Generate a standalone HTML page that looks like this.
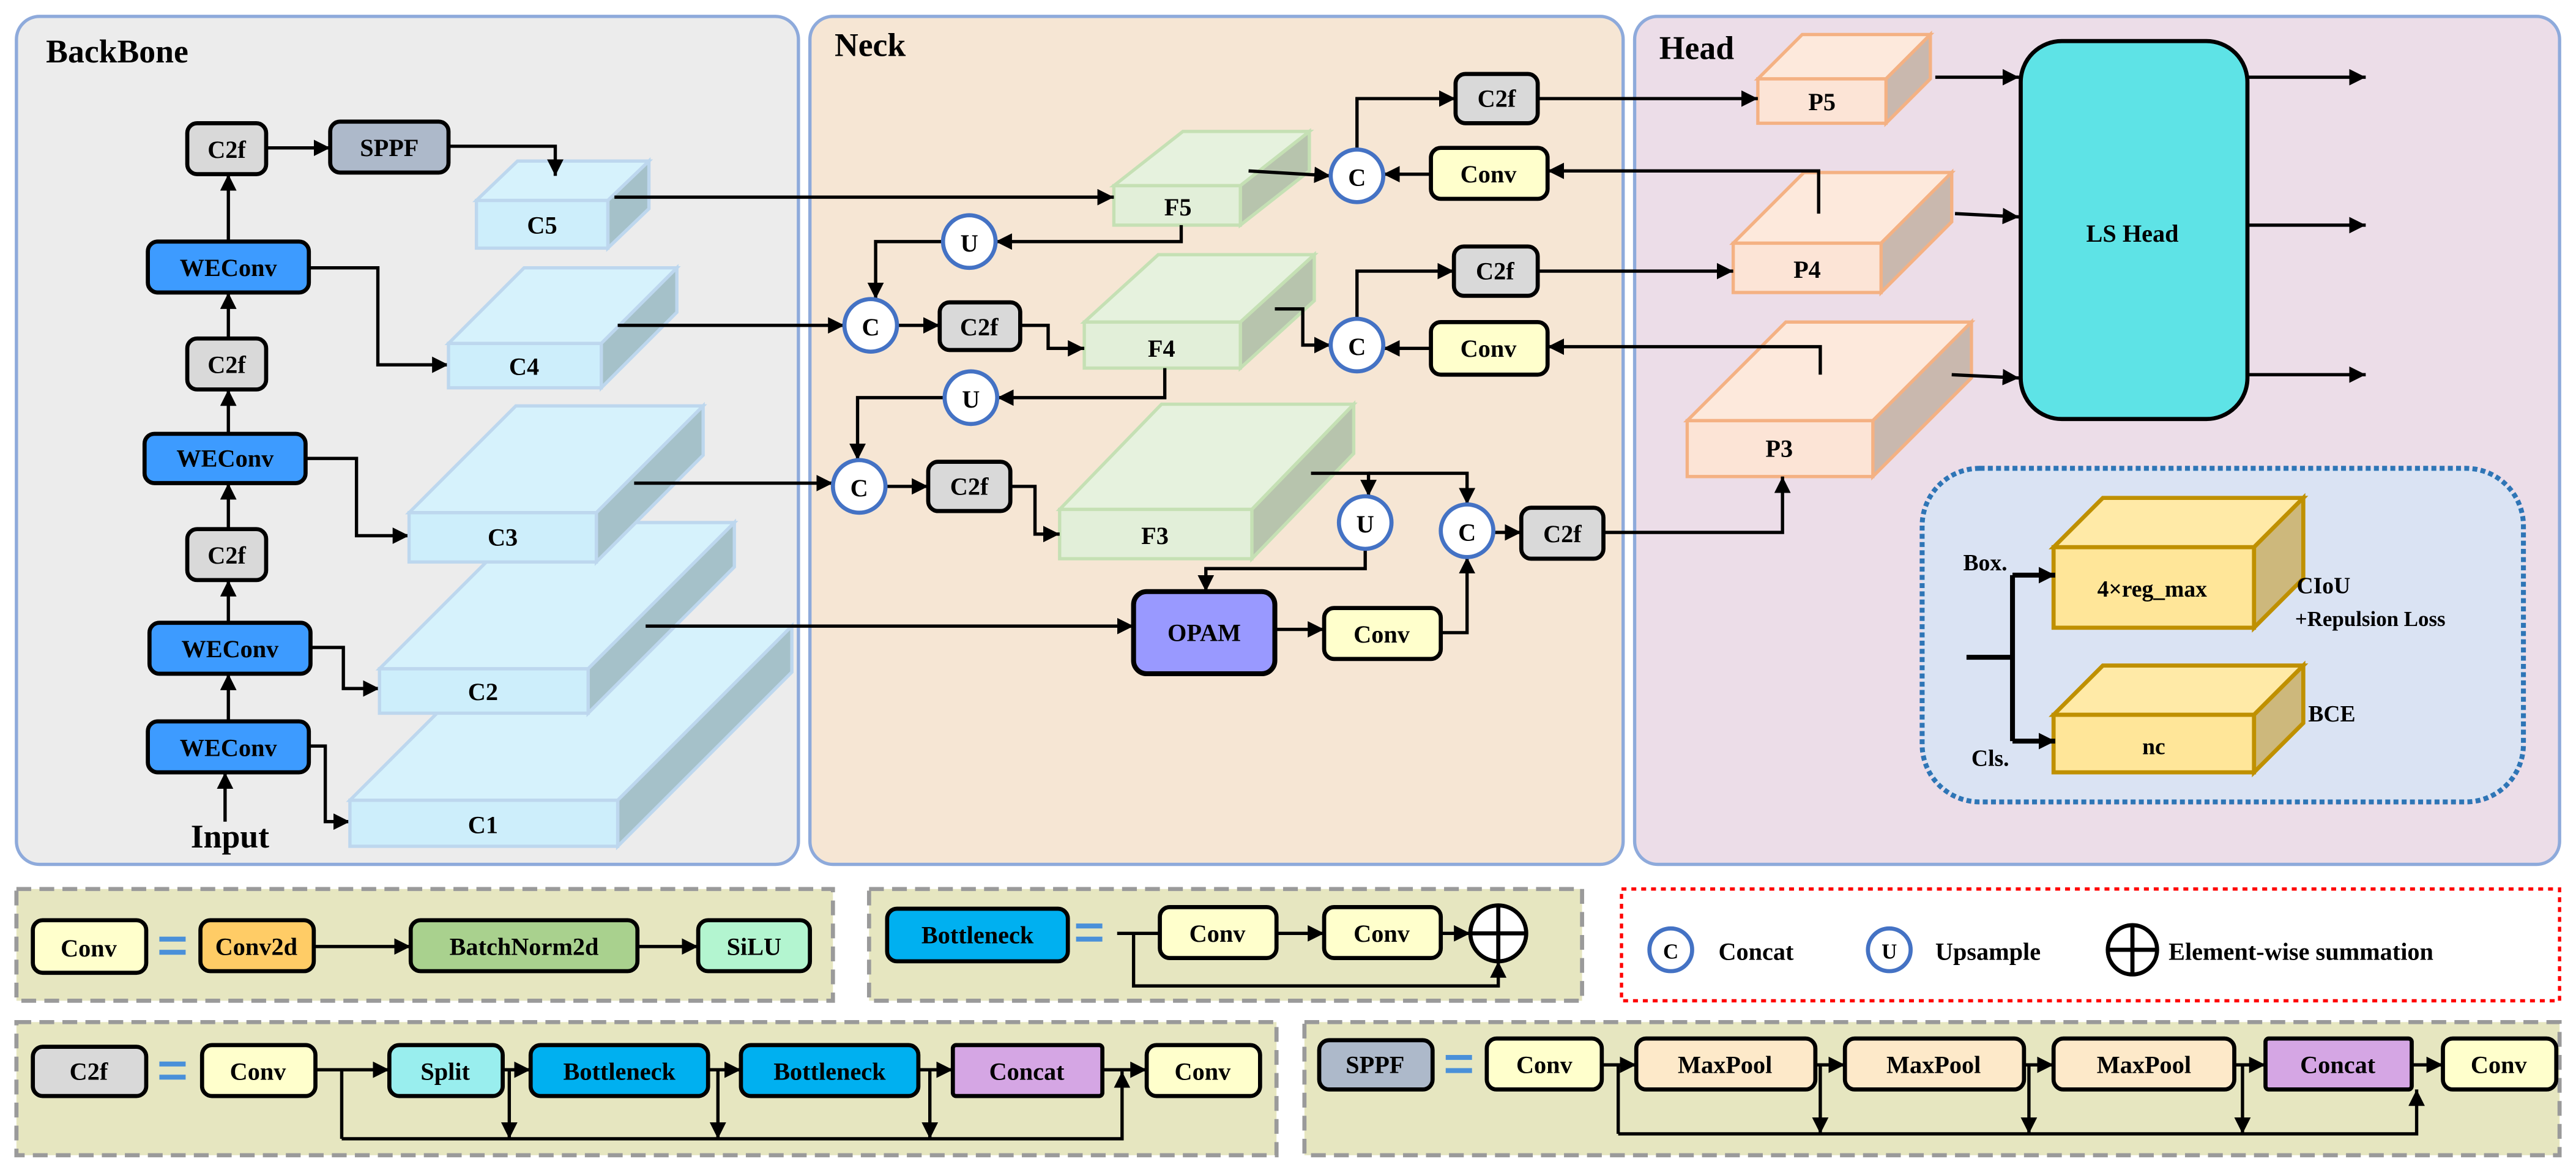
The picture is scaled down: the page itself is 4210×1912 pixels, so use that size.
<!DOCTYPE html>
<html><head><meta charset="utf-8"><style>
html,body{margin:0;padding:0;background:#fff}
svg{display:block}
svg text{font-family:"Liberation Serif","Times New Roman",serif;font-weight:bold;fill:#000}
</style></head><body>
<svg width="4210" height="1912" viewBox="0 0 1568 712" preserveAspectRatio="none" xmlns="http://www.w3.org/2000/svg" font-family="Liberation Serif, serif" font-weight="bold">
<defs>
<marker id="a" markerUnits="userSpaceOnUse" markerWidth="10" markerHeight="10" refX="10" refY="5" orient="auto"><path d="M0,0 L10,5 L0,10 z" fill="#000"/></marker>
</defs>
<rect width="1568" height="712" fill="#fff"/>
<rect x="10" y="10" width="476" height="516" rx="14" fill="#ececec" stroke="#8eaadb" stroke-width="2"/>
<rect x="493" y="10" width="495" height="516" rx="14" fill="#f6e6d4" stroke="#8eaadb" stroke-width="2"/>
<rect x="995" y="10" width="563" height="516" rx="14" fill="#ecdde8" stroke="#8eaadb" stroke-width="2"/>
<text x="28" y="38" font-size="20">BackBone</text>
<text x="508" y="34" font-size="20">Neck</text>
<text x="1010" y="36" font-size="20">Head</text>

<g stroke="#000" stroke-width="2" fill="none" marker-end="url(#a)">
<path d="M139,147 V106"/><path d="M139,206 V178"/><path d="M139,264 V237"/><path d="M139,322 V294"/><path d="M139,379 V353"/><path d="M139,439 V410"/><path d="M137,500 V470"/>
<path d="M162,90 H201"/>
<path d="M188,163 H230 V222 H273"/><path d="M186,279 H217 V326 H249"/><path d="M189,394 H209 V419 H231"/><path d="M188,454 H198 V500 H213"/>
</g>

<g stroke="#bdd7ee" stroke-width="2">
<polygon points="213,487 319,381 482,381 376,487" fill="#d6f2fc"/><polygon points="376,487 482,381 482,409 376,515" fill="#a5c1c9"/><rect x="213" y="487" width="163" height="28" fill="#cdeefb"/>
<polygon points="231,407 320,318 447,318 358,407" fill="#d6f2fc"/><polygon points="358,407 447,318 447,345 358,434" fill="#a5c1c9"/><rect x="231" y="407" width="127" height="27" fill="#cdeefb"/>
<polygon points="249,312 314,247 428,247 363,312" fill="#d6f2fc"/><polygon points="363,312 428,247 428,277 363,342" fill="#a5c1c9"/><rect x="249" y="312" width="114" height="30" fill="#cdeefb"/>
<polygon points="273,209 319,163 412,163 366,209" fill="#d6f2fc"/><polygon points="366,209 412,163 412,190 366,236" fill="#a5c1c9"/><rect x="273" y="209" width="93" height="27" fill="#cdeefb"/>
<polygon points="290,122 315,98 395,98 370,122" fill="#d6f2fc"/><polygon points="370,122 395,98 395,127 370,151" fill="#a5c1c9"/><rect x="290" y="122" width="80" height="29" fill="#cdeefb"/>
</g>
<path d="M273,89 H338 V107" stroke="#000" stroke-width="2" fill="none" marker-end="url(#a)"/>
<g font-size="15" text-anchor="middle" dominant-baseline="central">
<text x="294" y="502">C1</text><text x="294" y="421">C2</text><text x="306" y="327">C3</text><text x="319" y="223">C4</text><text x="330" y="137">C5</text>
</g>

<g stroke="#000" stroke-width="2.5">
<rect x="114" y="75" width="48" height="31" rx="6" fill="#d9d9d9"/>
<rect x="201" y="74" width="72" height="31" rx="6" fill="#adb9ca"/>
<rect x="90" y="147" width="98" height="31" rx="6" fill="#3d9bff"/>
<rect x="114" y="206" width="48" height="31" rx="6" fill="#d9d9d9"/>
<rect x="88" y="264" width="98" height="30" rx="6" fill="#3d9bff"/>
<rect x="114" y="322" width="48" height="31" rx="6" fill="#d9d9d9"/>
<rect x="91" y="379" width="98" height="31" rx="6" fill="#3d9bff"/>
<rect x="90" y="439" width="98" height="31" rx="6" fill="#3d9bff"/>
</g>
<g font-size="15" text-anchor="middle" dominant-baseline="central">
<text x="138" y="91">C2f</text><text x="237" y="90">SPPF</text><text x="139" y="163">WEConv</text><text x="138" y="222">C2f</text><text x="137" y="279">WEConv</text><text x="138" y="338">C2f</text><text x="140" y="395">WEConv</text><text x="139" y="455">WEConv</text>
<text x="140" y="509" font-size="20">Input</text>
</g>

<g stroke="#c5e0b4" stroke-width="2">
<polygon points="678,113 720,80 797,80 755,113" fill="#e6f2de"/><polygon points="755,113 797,80 797,104 755,137" fill="#b7c4ad"/><rect x="678" y="113" width="77" height="24" fill="#e2efd9"/>
<polygon points="660,196 705,155 800,155 755,196" fill="#e6f2de"/><polygon points="755,196 800,155 800,183 755,224" fill="#b7c4ad"/><rect x="660" y="196" width="95" height="28" fill="#e2efd9"/>
<polygon points="645,310 707,246 824,246 762,310" fill="#e6f2de"/><polygon points="762,310 824,246 824,276 762,340" fill="#b7c4ad"/><rect x="645" y="310" width="117" height="30" fill="#e2efd9"/>
</g>
<g stroke="#f4b183" stroke-width="2">
<polygon points="1070,48 1097,21 1175,21 1148,48" fill="#fde9dc"/><polygon points="1148,48 1175,21 1175,48 1148,75" fill="#c9b8ae"/><rect x="1070" y="48" width="78" height="27" fill="#fce4d6"/>
<polygon points="1055,148 1098,105 1188,105 1145,148" fill="#fde9dc"/><polygon points="1145,148 1188,105 1188,135 1145,178" fill="#c9b8ae"/><rect x="1055" y="148" width="90" height="30" fill="#fce4d6"/>
<polygon points="1027,256 1087,196 1200,196 1140,256" fill="#fde9dc"/><polygon points="1140,256 1200,196 1200,230 1140,290" fill="#c9b8ae"/><rect x="1027" y="256" width="113" height="34" fill="#fce4d6"/>
</g>
<g font-size="15" text-anchor="middle" dominant-baseline="central">
<text x="717" y="126">F5</text><text x="707" y="212">F4</text><text x="703" y="326">F3</text>
<text x="1109" y="62">P5</text><text x="1100" y="164">P4</text><text x="1083" y="273">P3</text>
</g>

<g stroke="#000" stroke-width="2" fill="none" marker-end="url(#a)">
<path d="M374,120 H678"/>
<path d="M376,198 H514"/>
<path d="M386,294 H507"/>
<path d="M393,381 H690"/>
<path d="M719,137 V147 H606"/>
<path d="M574,147 H533 V182"/>
<path d="M546,198 H572"/>
<path d="M621,198 H638 V212 H660"/>
<path d="M709,224 V242 H607"/>
<path d="M575,242 H522 V280"/>
<path d="M539,296 H565"/>
<path d="M615,296 H630 V325 H645"/>
<path d="M798,288 H833 V302"/>
<path d="M831,334 V346 H734 V360"/>
<path d="M833,288 H893 V307"/>
<path d="M776,383 H806"/>
<path d="M877,385 H893 V339"/>
<path d="M909,324 H926"/>
<path d="M976,324 H1085 V290"/>
<path d="M776,188 H793 V210 H810"/>
<path d="M1108,228 V211 H942"/>
<path d="M871,212 H842"/>
<path d="M826,194 V165 H885"/>
<path d="M936,165 H1055"/>
<path d="M760,104 L810,107"/>
<path d="M1107,130 V104 H942"/>
<path d="M871,106 H842"/>
<path d="M826,91 V60 H886"/>
<path d="M936,60 H1070"/>
<path d="M1178,47 H1229"/><path d="M1190,130 L1229,132"/><path d="M1188,228 L1229,230"/>
<path d="M1368,47 H1440"/><path d="M1368,137 H1440"/><path d="M1368,228 H1440"/>
</g>

<g stroke="#000" stroke-width="2.5">
<rect x="572" y="184" width="49" height="29" rx="6" fill="#d9d9d9"/>
<rect x="565" y="281" width="50" height="30" rx="6" fill="#d9d9d9"/>
<rect x="926" y="309" width="50" height="31" rx="6" fill="#d9d9d9"/>
<rect x="885" y="150" width="51" height="30" rx="6" fill="#d9d9d9"/>
<rect x="886" y="45" width="50" height="30" rx="6" fill="#d9d9d9"/>
<rect x="871" y="90" width="71" height="31" rx="6" fill="#ffffcc"/>
<rect x="871" y="196" width="71" height="32" rx="6" fill="#ffffcc"/>
<rect x="806" y="370" width="71" height="31" rx="6" fill="#ffffcc"/>
<rect x="690" y="360" width="86" height="50" rx="8" fill="#9999ff" stroke-width="3"/>
<rect x="1230" y="25" width="138" height="230" rx="25" fill="#5ee3e6"/>
</g>
<g stroke="#4472c4" stroke-width="2.5" fill="#fff">
<circle cx="590" cy="147" r="16"/><circle cx="530" cy="198" r="16"/><circle cx="591" cy="242" r="16"/><circle cx="523" cy="296" r="16"/>
<circle cx="831" cy="318" r="16"/><circle cx="893" cy="323" r="16"/><circle cx="826" cy="210" r="16"/><circle cx="826" cy="107" r="16"/>
</g>
<g font-size="15" text-anchor="middle" dominant-baseline="central">
<text x="590" y="148">U</text><text x="530" y="199">C</text><text x="591" y="243">U</text><text x="523" y="297">C</text>
<text x="831" y="319">U</text><text x="893" y="324">C</text><text x="826" y="211">C</text><text x="826" y="108">C</text>
<text x="596" y="199">C2f</text><text x="590" y="296">C2f</text><text x="951" y="325">C2f</text><text x="910" y="165">C2f</text><text x="911" y="60">C2f</text>
<text x="906" y="106">Conv</text><text x="906" y="212">Conv</text><text x="841" y="386">Conv</text>
<text x="733" y="385">OPAM</text>
<text x="1298" y="142">LS Head</text>
</g>

<rect x="1170" y="285" width="366" height="203" rx="35" fill="#dae3f3" stroke="#2e75b6" stroke-width="3" stroke-dasharray="3,2"/>
<g stroke="#bf9000" stroke-width="2.5">
<polygon points="1250,333 1280,303 1402,303 1372,333" fill="#ffeaa7"/><polygon points="1372,333 1402,303 1402,352 1372,382" fill="#cdb87c"/><rect x="1250" y="333" width="122" height="49" fill="#ffe699"/>
<polygon points="1250,435 1280,405 1402,405 1372,435" fill="#ffeaa7"/><polygon points="1372,435 1402,405 1402,440 1372,470" fill="#cdb87c"/><rect x="1250" y="435" width="122" height="35" fill="#ffe699"/>
</g>
<path d="M1197,400 H1225 M1225,350 V451" stroke="#000" stroke-width="3" fill="none"/>
<g stroke="#000" stroke-width="3" fill="none" marker-end="url(#a)"><path d="M1225,350 H1251"/><path d="M1225,451 H1251"/></g>
<g font-size="14">
<text x="1310" y="363" text-anchor="middle">4×reg_max</text>
<text x="1311" y="459" text-anchor="middle">nc</text>
<text x="1195" y="347">Box.</text>
<text x="1200" y="466">Cls.</text>
<text x="1398" y="361">CIoU</text>
<text x="1397" y="381" font-size="13">+Repulsion Loss</text>
<text x="1405" y="439">BCE</text>
</g>

<g fill="#e6e6c0" stroke="#9a9a9a" stroke-width="2.5" stroke-dasharray="9,5">
<rect x="10" y="541" width="497" height="68"/>
<rect x="529" y="541" width="434" height="68"/>
<rect x="10" y="622" width="767" height="81"/>
<rect x="794" y="622" width="764" height="81"/>
</g>
<rect x="987" y="541" width="571" height="68" fill="#fff" stroke="#ff0000" stroke-width="2" stroke-dasharray="3,3"/>

<g stroke="#000" stroke-width="2" fill="none" marker-end="url(#a)">
<path d="M191,576 H250"/><path d="M388,576 H425"/>
<path d="M777,568 H806"/><path d="M877,568 H895"/>
<path d="M690,568 V600 H912 V585"/>
<path d="M192,651 H237"/><path d="M306,651 H323"/><path d="M431,651 H451"/><path d="M559,651 H580"/><path d="M671,651 H698"/>
<path d="M208,693 H683 V652"/>
<path d="M310,651 V693"/><path d="M437,651 V693"/><path d="M566,651 V693"/>
<path d="M975,648 H996"/><path d="M1105,648 H1123"/><path d="M1232,648 H1250"/><path d="M1360,648 H1379"/><path d="M1468,648 H1487"/>
<path d="M985,690 H1471 V663"/>
<path d="M1108,648 V690"/><path d="M1235,648 V690"/><path d="M1365,648 V690"/>
</g>
<path d="M680,568 H706 M208,651 V693 M985,648 V690" stroke="#000" stroke-width="2" fill="none"/>

<g stroke="#000" stroke-width="2.5">
<rect x="20" y="560" width="69" height="32" rx="6" fill="#ffffcc"/>
<rect x="122" y="560" width="69" height="31" rx="6" fill="#ffcc66"/>
<rect x="250" y="560" width="138" height="31" rx="6" fill="#a9d18e"/>
<rect x="425" y="560" width="68" height="31" rx="6" fill="#b3f5d0"/>
<rect x="540" y="553" width="110" height="32" rx="6" fill="#00b0f0"/>
<rect x="706" y="552" width="71" height="31" rx="6" fill="#ffffcc"/>
<rect x="806" y="552" width="71" height="31" rx="6" fill="#ffffcc"/>
<rect x="20" y="637" width="69" height="30" rx="6" fill="#d9d9d9"/>
<rect x="123" y="636" width="69" height="31" rx="6" fill="#ffffcc"/>
<rect x="237" y="636" width="69" height="31" rx="6" fill="#99eeee"/>
<rect x="323" y="636" width="108" height="31" rx="6" fill="#00b0f0"/>
<rect x="451" y="636" width="108" height="31" rx="6" fill="#00b0f0"/>
<rect x="580" y="636" width="91" height="31" rx="2" fill="#d5a6e4"/>
<rect x="698" y="636" width="69" height="31" rx="6" fill="#ffffcc"/>
<rect x="803" y="633" width="69" height="30" rx="6" fill="#adb9ca"/>
<rect x="905" y="632" width="70" height="31" rx="6" fill="#ffffcc"/>
<rect x="996" y="632" width="109" height="31" rx="6" fill="#fde9c9"/>
<rect x="1123" y="632" width="109" height="31" rx="6" fill="#fde9c9"/>
<rect x="1250" y="632" width="110" height="31" rx="6" fill="#fde9c9"/>
<rect x="1379" y="632" width="89" height="31" rx="2" fill="#d5a6e4"/>
<rect x="1487" y="632" width="69" height="31" rx="6" fill="#ffffcc"/>
</g>
<g stroke="#000" stroke-width="2.5" fill="#fff">
<circle cx="912" cy="568" r="17"/><path d="M895,568 H929 M912,551 V585"/>
<circle cx="1298" cy="578" r="15"/><path d="M1283,578 H1313 M1298,563 V593"/>
</g>
<g stroke="#4472c4" stroke-width="2.5" fill="#fff"><circle cx="1017" cy="578" r="13"/><circle cx="1150" cy="578" r="13"/></g>
<g fill="#4a90d9"><rect x="97" y="570" width="16" height="3"/><rect x="97" y="578" width="16" height="3"/>
<rect x="655" y="562" width="16" height="3"/><rect x="655" y="570" width="16" height="3"/>
<rect x="97" y="646" width="16" height="3"/><rect x="97" y="654" width="16" height="3"/>
<rect x="880" y="642" width="16" height="3"/><rect x="880" y="650" width="16" height="3"/></g>
<g font-size="15" text-anchor="middle" dominant-baseline="central">
<text x="54" y="577">Conv</text><text x="156" y="576">Conv2d</text><text x="319" y="576">BatchNorm2d</text><text x="459" y="576">SiLU</text>
<text x="595" y="569">Bottleneck</text><text x="741" y="568">Conv</text><text x="841" y="568">Conv</text>
<text x="1017" y="579" font-size="13">C</text><text x="1150" y="579" font-size="13">U</text>
<text x="54" y="652">C2f</text><text x="157" y="652">Conv</text><text x="271" y="652">Split</text><text x="377" y="652">Bottleneck</text><text x="505" y="652">Bottleneck</text><text x="625" y="652">Concat</text><text x="732" y="652">Conv</text>
<text x="837" y="648">SPPF</text><text x="940" y="648">Conv</text><text x="1050" y="648">MaxPool</text><text x="1177" y="648">MaxPool</text><text x="1305" y="648">MaxPool</text><text x="1423" y="648">Concat</text><text x="1521" y="648">Conv</text>
</g>
<g font-size="15" dominant-baseline="central">
<text x="1046" y="579">Concat</text><text x="1178" y="579">Upsample</text><text x="1320" y="579">Element-wise summation</text>
</g>
</svg>
</body></html>
